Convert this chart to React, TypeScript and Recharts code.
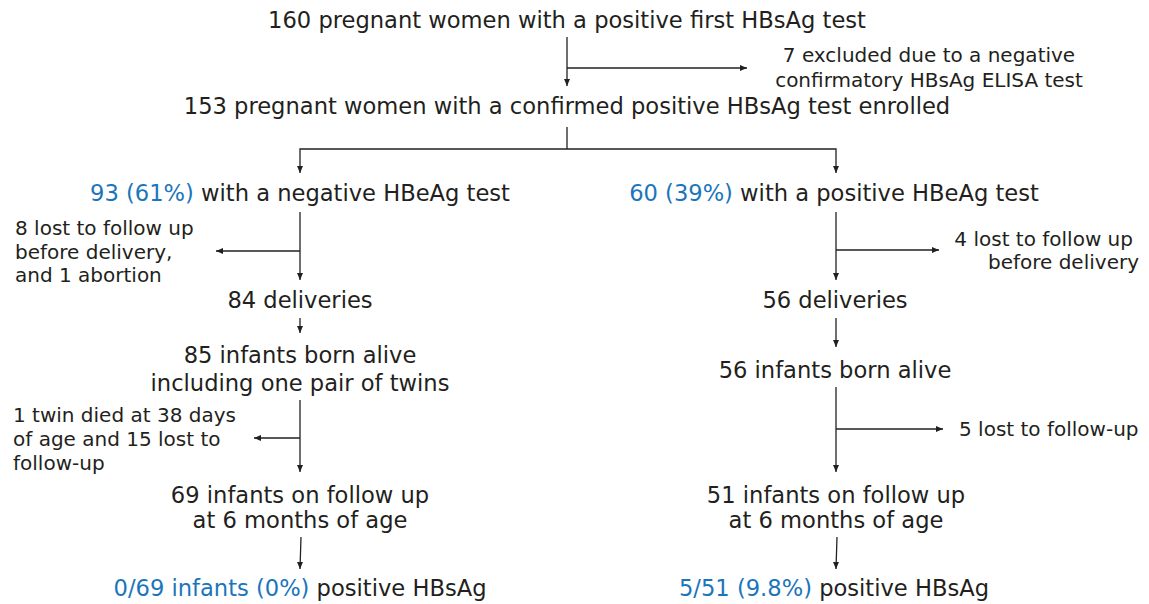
import React from 'react';
import { ScatterChart, Scatter, XAxis, YAxis } from 'recharts';

const W = 1149;
const H = 604;
const TEXT = '#231f20';
const BLUE = '#1b75bc';
const FONT = '"DejaVu Sans", Verdana, sans-serif';

type Seg = { t: string; hi?: boolean };
type Row = { x: number; y: number; segs: Seg[] };

// Main flow boxes (centered text rows)
const mainRows: Row[] = [
  { x: 567, y: 20, segs: [{ t: '160 pregnant women with a positive first HBsAg test' }] },
  { x: 567, y: 106, segs: [{ t: '153 pregnant women with a confirmed positive HBsAg test enrolled' }] },
  { x: 300, y: 193, segs: [{ t: '93 (61%)', hi: true }, { t: ' with a negative HBeAg test' }] },
  { x: 300, y: 300, segs: [{ t: '84 deliveries' }] },
  { x: 300, y: 355, segs: [{ t: '85 infants born alive' }] },
  { x: 300, y: 383, segs: [{ t: 'including one pair of twins' }] },
  { x: 300, y: 495, segs: [{ t: '69 infants on follow up' }] },
  { x: 300, y: 520, segs: [{ t: 'at 6 months of age' }] },
  { x: 300, y: 588, segs: [{ t: '0/69 infants (0%)', hi: true }, { t: ' positive HBsAg' }] },
  { x: 834, y: 193, segs: [{ t: '60 (39%)', hi: true }, { t: ' with a positive HBeAg test' }] },
  { x: 835, y: 300, segs: [{ t: '56 deliveries' }] },
  { x: 835, y: 370, segs: [{ t: '56 infants born alive' }] },
  { x: 836, y: 495, segs: [{ t: '51 infants on follow up' }] },
  { x: 836, y: 520, segs: [{ t: 'at 6 months of age' }] },
  { x: 834, y: 588, segs: [{ t: '5/51 (9.8%)', hi: true }, { t: ' positive HBsAg' }] },
];

// Side notes (exclusions)
const noteCentered: Row[] = [
  { x: 929, y: 55, segs: [{ t: '7 excluded due to a negative' }] },
  { x: 929, y: 80, segs: [{ t: 'confirmatory HBsAg ELISA test' }] },
];
const noteLeft: Row[] = [
  { x: 15, y: 228, segs: [{ t: '8 lost to follow up' }] },
  { x: 15, y: 252, segs: [{ t: 'before delivery,' }] },
  { x: 15, y: 275, segs: [{ t: 'and 1 abortion' }] },
  { x: 13, y: 415, segs: [{ t: '1 twin died at 38 days' }] },
  { x: 13, y: 439, segs: [{ t: 'of age and 15 lost to' }] },
  { x: 13, y: 463, segs: [{ t: 'follow-up' }] },
  { x: 959, y: 429, segs: [{ t: '5 lost to follow-up' }] },
];
const noteRight: Row[] = [
  { x: 1133, y: 239, segs: [{ t: '4 lost to follow up' }] },
  { x: 1139, y: 262, segs: [{ t: 'before delivery' }] },
];

type Pt = { x: number; y: number };
// Connector polylines
const connectors: Pt[][] = [
  [{ x: 567, y: 37 }, { x: 567, y: 86 }],
  [{ x: 567, y: 68 }, { x: 747, y: 68 }],
  [{ x: 567, y: 127 }, { x: 567, y: 149 }],
  [{ x: 300, y: 173 }, { x: 300, y: 149 }, { x: 836, y: 149 }, { x: 836, y: 173 }],
  [{ x: 300, y: 212 }, { x: 300, y: 280 }],
  [{ x: 300, y: 251 }, { x: 216, y: 251 }],
  [{ x: 836, y: 212 }, { x: 836, y: 280 }],
  [{ x: 836, y: 250 }, { x: 939, y: 250 }],
  [{ x: 300, y: 318 }, { x: 300, y: 333 }],
  [{ x: 836, y: 318 }, { x: 836, y: 347 }],
  [{ x: 300, y: 400 }, { x: 300, y: 472 }],
  [{ x: 300, y: 438 }, { x: 254, y: 438 }],
  [{ x: 836, y: 387 }, { x: 836, y: 472 }],
  [{ x: 836, y: 429 }, { x: 943, y: 429 }],
  [{ x: 301, y: 537 }, { x: 300, y: 569 }],
  [{ x: 837, y: 537 }, { x: 836, y: 569 }],
];

type Tip = { x: number; y: number; dir: 'down' | 'left' | 'right' };
const arrowTips: Tip[] = [
  { x: 567, y: 86, dir: 'down' },
  { x: 747, y: 68, dir: 'right' },
  { x: 300, y: 173, dir: 'down' },
  { x: 836, y: 173, dir: 'down' },
  { x: 300, y: 280, dir: 'down' },
  { x: 216, y: 251, dir: 'left' },
  { x: 836, y: 280, dir: 'down' },
  { x: 939, y: 250, dir: 'right' },
  { x: 300, y: 333, dir: 'down' },
  { x: 836, y: 347, dir: 'down' },
  { x: 300, y: 472, dir: 'down' },
  { x: 254, y: 438, dir: 'left' },
  { x: 836, y: 472, dir: 'down' },
  { x: 943, y: 429, dir: 'right' },
  { x: 300, y: 569, dir: 'down' },
  { x: 836, y: 569, dir: 'down' },
];

const Empty = () => <g />;

const makeText = (fontSize: number, anchor: 'start' | 'middle' | 'end') => (props: any) => {
  const { cx, cy, payload } = props;
  if (cx == null || cy == null) return <g />;
  return (
    <text
      x={cx}
      y={cy}
      dy="0.36em"
      textAnchor={anchor}
      fontFamily={FONT}
      fontSize={fontSize}
      fill={TEXT}
    >
      {payload.segs.map((s: Seg, i: number) => (
        <tspan key={i} fill={s.hi ? BLUE : TEXT} style={{ whiteSpace: 'pre' }}>
          {s.t}
        </tspan>
      ))}
    </text>
  );
};

const MainText = makeText(22.6, 'middle');
const NoteMid = makeText(20, 'middle');
const NoteStart = makeText(20, 'start');
const NoteEnd = makeText(20, 'end');

const ArrowShape = (props: any) => {
  const { cx, cy, payload } = props;
  if (cx == null || cy == null) return <g />;
  const L = 7;
  const Hw = 3;
  let pts = '';
  if (payload.dir === 'down') pts = `${cx},${cy} ${cx - Hw},${cy - L} ${cx + Hw},${cy - L}`;
  else if (payload.dir === 'right') pts = `${cx},${cy} ${cx - L},${cy - Hw} ${cx - L},${cy + Hw}`;
  else pts = `${cx},${cy} ${cx + L},${cy - Hw} ${cx + L},${cy + Hw}`;
  return <polygon points={pts} fill={TEXT} stroke="none" />;
};

export default function App() {
  return (
    <div style={{ position: 'absolute', left: 0, top: 0, width: W, height: H, background: '#fff' }}>
      <ScatterChart width={W} height={H} margin={{ top: 0, right: 0, bottom: 0, left: 0 }}>
        <XAxis type="number" dataKey="x" domain={[0, W]} allowDataOverflow hide />
        <YAxis type="number" dataKey="y" domain={[0, H]} allowDataOverflow reversed hide />
        {connectors.map((c, i) => (
          <Scatter
            key={'c' + i}
            data={c}
            line={{ stroke: TEXT, strokeWidth: 1.3 }}
            lineJointType="linear"
            shape={Empty}
            isAnimationActive={false}
          />
        ))}
        <Scatter data={arrowTips} shape={ArrowShape} isAnimationActive={false} />
        <Scatter data={mainRows} shape={MainText} isAnimationActive={false} />
        <Scatter data={noteCentered} shape={NoteMid} isAnimationActive={false} />
        <Scatter data={noteLeft} shape={NoteStart} isAnimationActive={false} />
        <Scatter data={noteRight} shape={NoteEnd} isAnimationActive={false} />
      </ScatterChart>
    </div>
  );
}
